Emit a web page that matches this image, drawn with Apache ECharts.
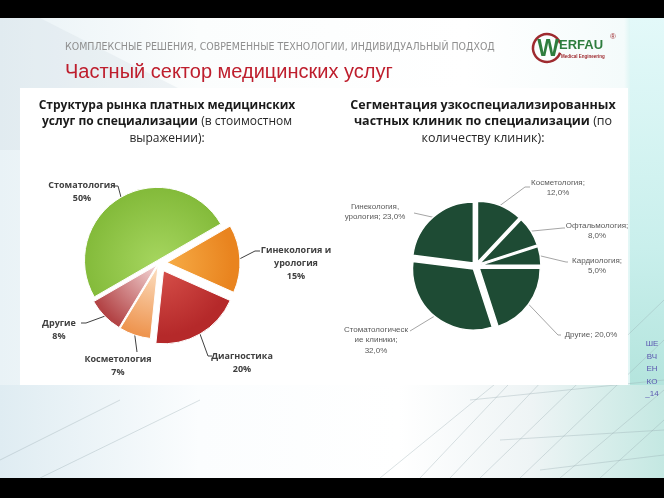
<!DOCTYPE html>
<html><head><meta charset="utf-8">
<script src="https://cdn.jsdelivr.net/npm/echarts@6/dist/echarts.min.js"></script>
<style>html,body{margin:0;padding:0;background:#000}#c{width:664px;height:498px}</style>
</head><body><div id="c"></div>
<script>
// ---- data ----
const leftNames = ['Стоматология', 'Гинекология и\nурология', 'Диагностика', 'Косметология', 'Другие'];
const leftValues = [50, 15, 20, 7, 8];
const rightNames = ['Косметология', 'Офтальмология', 'Кардиология', 'Другие', 'Стоматологическ\nие клиники', 'Гинекология,\nурология'];
const rightValues = [12.0, 8.0, 5.0, 20.0, 32.0, 23.0];

// ---- layout / style ----
const LC = [159, 263], LR = 73;
const RC = [476, 266], RR = 61;
function rad(c1, c2) { return {type:'radial', x:LC[0], y:LC[1], r:LR, global:true, colorStops:[{offset:0,color:c1},{offset:1,color:c2}]}; }
const leftColors = [rad('#a6d65f','#84bb3b'), rad('#f8b04a','#e9841f'), rad('#d9534c','#b5292a'), rad('#fde3c8','#ee9550'), rad('#f6dcdc','#b34446')];
const rightColors = rightNames.map(()=>'#1e4b34');
const leftExplode = [3, 8, 9, 3, 3];
const rightExplode = [4, 4, 4, 4, 4, 4];
// [labelCenterX, labelCenterY, elbow, end]
const leftLabelPos = [
  [82,192,[118,186],[113,186]],
  [296,263,[255,251],[260,251]],
  [242,363,[208,356],[212,356]],
  [118,366,[137,352],[137,352]],
  [59,330,[86,323],[81,323]]
];
const rightLabelPos = [
  [558,188,[525,187],[530,187]],
  [597,231,[563,228],[565,228]],
  [597,266,[566,262],[568,262]],
  [591,335,[558,335],[561,335]],
  [376,340,[410,331],[410,331]],
  [375,212,[414,213],[414,213]]
];
const rightSep = ['\n','\n','\n',' ','\n',' '];
const tf = '"Open Sans", "Liberation Sans", sans-serif';

function layoutFn(posArr) {
  return p => {
    const q = posArr[p.dataIndex];
    if (!q) return {};
    const o = {x:q[0], y:q[1], align:'center', verticalAlign:'middle'};
    if (p.labelLinePoints && p.labelLinePoints.length) o.labelLinePoints = [p.labelLinePoints[0], q[2], q[3]];
    return o;
  };
}

// one pie series per slice, each pushed out along its own mid-angle (exploded pie)
function explodedPie(names, values, colors, center, radius, startAngle, explode, border, label, labelLine, posArr) {
  const total = values.reduce((a,b)=>a+b, 0);
  const startCompass = 90 - startAngle;
  let cum = 0;
  return values.map((v, i) => {
    const mid = (startCompass + 360 * (cum + v/2) / total) * Math.PI / 180;
    cum += v;
    const c = [center[0] + explode[i]*Math.sin(mid), center[1] - explode[i]*Math.cos(mid)];
    return {
      type:'pie', center:c, radius:radius, startAngle:startAngle, clockwise:true,
      avoidLabelOverlap:false, silent:true, selectedMode:false,
      data: names.map((n,j)=>({
        name:n, value:values[j],
        itemStyle: j===i ? {color:colors[j], borderColor:'#ffffff', borderWidth:border} : {color:'rgba(0,0,0,0)', borderWidth:0},
        label:{show:j===i}, labelLine:{show:j===i}
      })),
      label:label, labelLine:labelLine, labelLayout:layoutFn(posArr),
      emphasis:{disabled:true}
    };
  });
}

const chart = echarts.init(document.getElementById('c'), null, {renderer:'canvas'});
const g = [];
g.push({type:'rect', shape:{x:0,y:18,width:664,height:460}, style:{fill:{type:'linear',x:0,y:0,x2:1,y2:0,colorStops:[{offset:0,color:'#e9f2f6'},{offset:0.3,color:'#fbfdfd'},{offset:0.7,color:'#ffffff'},{offset:0.94,color:'#f4fbfb'},{offset:0.95,color:'#dcf5f4'},{offset:1,color:'#d2f1ee'}]}}, silent:true});
g.push({type:'polygon', shape:{points:[[0,18],[40,18],[300,150],[0,150]]}, style:{fill:'rgba(205,215,225,0.25)'}, silent:true});
g.push({type:'rect', shape:{x:630,y:18,width:34,height:460}, style:{fill:{type:'linear',x:0,y:0,x2:0,y2:1,colorStops:[{offset:0,color:'#e3f9f9'},{offset:0.5,color:'#c9efec'},{offset:1,color:'#a6ddd3'}]}}, silent:true});
g.push({type:'rect', shape:{x:0,y:385,width:664,height:93}, style:{fill:{type:'linear',x:0,y:0,x2:1,y2:0,colorStops:[{offset:0,color:'#dfecf2'},{offset:0.3,color:'#fbfdfe'},{offset:0.6,color:'#ffffff'},{offset:0.8,color:'#eef4f5'},{offset:1,color:'#c4e8e2'}]}}, silent:true});
const lines = [[420,478,560,330],[450,478,600,320],[480,478,664,300],[520,478,664,340],[560,478,664,390],[380,478,500,380],[600,478,664,420],[470,400,664,380],[500,440,664,430],[540,470,664,455],[0,460,120,400],[40,478,200,400]];
lines.forEach(l => g.push({type:'line', shape:{x1:l[0],y1:l[1],x2:l[2],y2:l[3]}, style:{stroke:'rgba(150,170,175,0.35)',lineWidth:1}, silent:true}));
g.push({type:'rect', shape:{x:20,y:88,width:608,height:297}, style:{fill:'#ffffff'}, silent:true});
g.push({type:'text', x:65, y:47, style:{text:'КОМПЛЕКСНЫЕ РЕШЕНИЯ, СОВРЕМЕННЫЕ ТЕХНОЛОГИИ, ИНДИВИДУАЛЬНЫЙ ПОДХОД', font:'10.5px "Liberation Sans Narrow", "DejaVu Sans Condensed", sans-serif', fill:'#8f8f8f', verticalAlign:'middle'}});
g.push({type:'text', x:65, y:72, style:{text:'Частный сектор медицинских услуг', font:'20px "Liberation Sans Narrow", "Liberation Sans", sans-serif', fill:'#be1e2d', verticalAlign:'middle'}});
g.push({type:'arc', shape:{cx:547,cy:48,r:14,startAngle:0.35,endAngle:Math.PI*2-0.35}, style:{stroke:'#9e2a2f',lineWidth:2.5,fill:null}});
g.push({type:'text', x:548, y:50, style:{text:'W', font:'bold 23px "Liberation Sans", sans-serif', fill:'#2e7d3e', align:'center', verticalAlign:'middle'}});
g.push({type:'text', x:559, y:45, style:{text:'ERFAU', font:'bold 13px "Liberation Sans", sans-serif', fill:'#2e7d3e', verticalAlign:'middle'}});
g.push({type:'text', x:561, y:57, style:{text:'Medical Engineering', font:'bold 4.5px "Liberation Sans", sans-serif', fill:'#9e2a2f', verticalAlign:'middle'}});
g.push({type:'text', x:610, y:37, style:{text:'®', font:'8px "Liberation Sans", sans-serif', fill:'#9e2a2f', verticalAlign:'middle'}});
g.push({type:'text', x:167, y:97, style:{text:'{b|Структура рынка платных медицинских}\n{b|услуг по специализации} {n|(в стоимостном}\n{n|выражении):}', align:'center', lineHeight:16.5, rich:{b:{font:'bold 12px '+tf, fill:'#1a1a1a', lineHeight:16.5}, n:{font:'12px '+tf, fill:'#262626', lineHeight:16.5}}}});
g.push({type:'text', x:483, y:97, style:{text:'{b|Сегментация узкоспециализированных}\n{b|частных клиник по специализации} {n|(по}\n{n|количеству клиник):}', align:'center', lineHeight:16.5, rich:{b:{font:'bold 12.5px '+tf, fill:'#1a1a1a', lineHeight:16.5}, n:{font:'12.5px '+tf, fill:'#262626', lineHeight:16.5}}}});
g.push({type:'text', x:652, y:338, style:{text:'ШЕ\nВЧ\nЕН\nКО\n_14', font:'8px "Liberation Sans", sans-serif', fill:'#5b57b0', align:'center', lineHeight:12.5}});

const leftSeries = explodedPie(leftNames, leftValues, leftColors, LC, LR, 210, leftExplode, 1,
  {show:true, formatter:p=>p.name+'\n'+p.value+'%', fontWeight:'bold', fontSize:9, fontFamily:tf, color:'#404040', lineHeight:13, align:'center', overflow:'none'},
  {show:true, lineStyle:{color:'#404040', width:1}, length:10, length2:10}, leftLabelPos);
const rightSeries = explodedPie(rightNames, rightValues, rightColors, RC, RR, 90, rightExplode, 1.5,
  {show:true, formatter:p=>p.name+';'+rightSep[p.dataIndex]+p.value.toFixed(1).replace('.',',')+'%', fontSize:8, fontFamily:'"Liberation Sans", Arial, sans-serif', color:'#595959', lineHeight:10.5, align:'center', overflow:'none'},
  {show:true, lineStyle:{color:'#a6a6a6', width:1}, length:10, length2:10}, rightLabelPos);

chart.setOption({
  animation:false,
  backgroundColor:'#000000',
  graphic:{elements:g},
  series: leftSeries.concat(rightSeries)
});
</script></body></html>
